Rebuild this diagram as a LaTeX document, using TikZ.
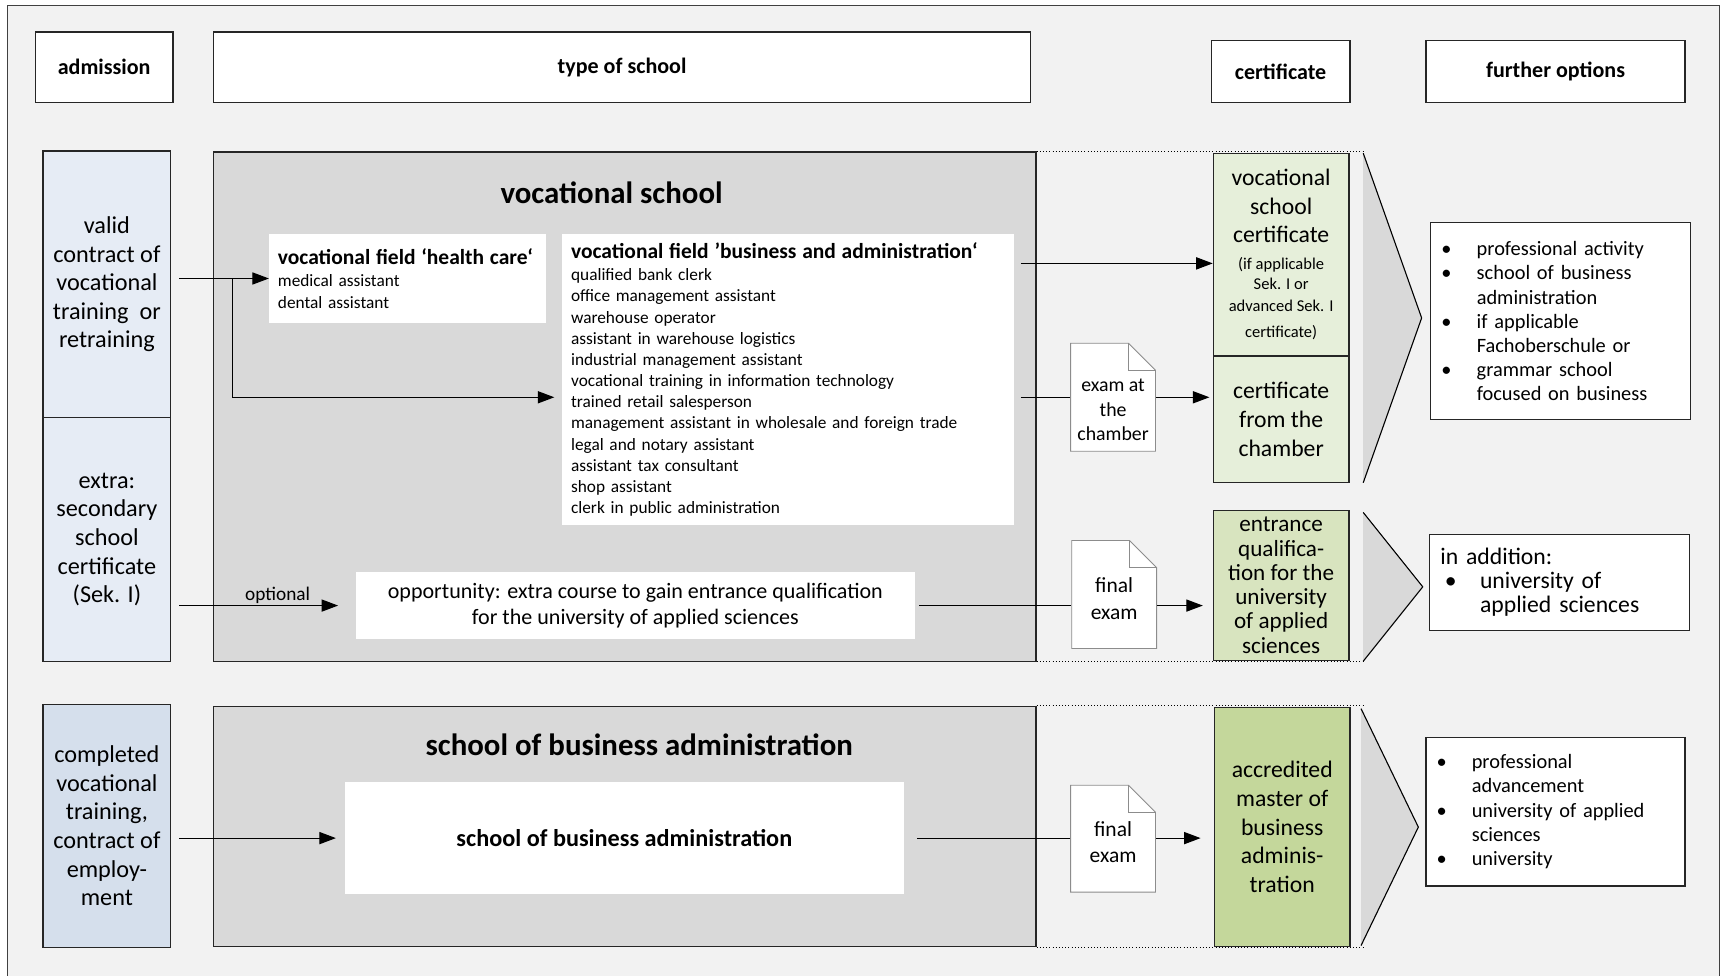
\documentclass[tikz,border=0pt]{standalone}
\usepackage{fontspec}
\setmainfont{Carlito}
\usetikzlibrary{arrows.meta}

\definecolor{bgcol}{HTML}{F2F2F2}
\definecolor{schoolgray}{HTML}{D9D9D9}
\definecolor{admblue}{HTML}{E6ECF5}
\definecolor{admbluedark}{HTML}{D5DFEC}
\definecolor{certgreen}{HTML}{E6EFDA}
\definecolor{certgreenmid}{HTML}{D8E4BF}
\definecolor{certgreendark}{HTML}{C4D79B}
\definecolor{framegray}{HTML}{404040}

\newcommand{\fsz}[2]{\fontsize{#1}{#2}\selectfont}
\newcommand{\smc}{\fsz{15}{20}}
\newcommand{\optbul}{\makebox[32pt][l]{\textbullet}}
\newcommand{\optind}{\hspace*{32pt}}

\tikzset{
  frmbox/.style={draw=black!85, line width=1.1pt, inner sep=0pt, align=center},
  headbox/.style={frmbox, fill=white, font=\bfseries\fsz{20}{22}},
  admbox/.style={frmbox, fill=admblue, minimum width=116pt, font=\fsz{22}{26}},
  schoolbox/.style={frmbox, fill=schoolgray, minimum width=746pt},
  fieldbox/.style={fill=white, inner sep=8pt, align=left, anchor=north west, font=\fsz{15.7}{19.2}},
  certbox/.style={frmbox, fill=certgreen, minimum width=123pt, font=\fsz{21.5}{26}},
  optbox/.style={frmbox, fill=white, align=left, text width=216pt, minimum width=236pt, font=\fsz{18.5}{22}},
  docnode/.style={minimum width=78pt, minimum height=99pt, fill=bgcol, inner sep=0pt,
    path picture={
      \draw[draw=black!45, line width=0.8pt, fill=white]
        ([shift={(0.5pt,-0.5pt)}]path picture bounding box.north west)
        -- ([shift={(-25pt,-0.5pt)}]path picture bounding box.north east)
        -- ([shift={(-0.5pt,-25pt)}]path picture bounding box.north east)
        -- ([shift={(-0.5pt,0.5pt)}]path picture bounding box.south east)
        -- ([shift={(0.5pt,0.5pt)}]path picture bounding box.south west) -- cycle;
      \draw[draw=black!45, line width=0.8pt]
        ([shift={(-25pt,-0.5pt)}]path picture bounding box.north east)
        |- ([shift={(-0.5pt,-25pt)}]path picture bounding box.north east);
    }},
  doctext/.style={align=center, inner sep=0pt, font=\fsz{19.5}{24}},
  arr/.style={-{Triangle[length=15pt,width=11pt]}, line width=1.1pt},
}

\begin{document}
\begin{tikzpicture}[x=1pt, y=-1pt]
  \useasboundingbox (0,0) rectangle (1568,885);
  \clip (0,0) rectangle (1568,885);
  \fill[white] (0,0) rectangle (1568,885);
  \draw[framegray, line width=1.2pt, fill=bgcol] (7,5) rectangle (1560,900);

  % column heads
  \node[headbox, minimum width=125pt, minimum height=64pt] (adm) at (94.5,61) {admission};
  \node[headbox, minimum width=741pt, minimum height=64pt] (typ) at (564.5,61) {type of school};
  \node[headbox, minimum width=126pt, minimum height=56pt] (cer) at (1162,65) {certificate};
  \node[headbox, minimum width=235pt, minimum height=56pt] (fur) at (1411.5,65) {further options};

  % admission
  \node[admbox, minimum height=242pt] (valid) at (97,258) {valid\\contract of\\vocational\\training~ or\\retraining};
  \node[admbox, minimum height=221pt] (sek) at (97,489.5) {extra:\\secondary\\school\\certificate\\(Sek. I)};
  \node[admbox, fill=admbluedark, minimum height=221pt] (compl) at (97,749.5) {completed\\vocational\\training,\\contract of\\employ-\\ment};

  % vocational school
  \node[schoolbox, minimum height=462pt] (vs) at (567,369) {};
  \node[font=\bfseries\fsz{28}{30}] (vstitle) at (555,175) {vocational school};
  \node[fieldbox, text width=235pt, minimum height=81pt] (hc) at (244,212)
    {{\bfseries\fsz{19.5}{21}vocational field ‘health care‘}\\[1pt]
     medical assistant\\dental assistant};
  \node[fieldbox, text width=394pt, minimum height=260pt] (biz) at (510,212)
    {{\bfseries\fsz{19.5}{21}vocational field ’business and administration‘}\\[1pt]
     qualified bank clerk\\office management assistant\\warehouse operator\\
     assistant in warehouse logistics\\industrial management assistant\\
     vocational training in information technology\\trained retail salesperson\\
     management assistant in wholesale and foreign trade\\legal and notary assistant\\
     assistant tax consultant\\shop assistant\\clerk in public administration};
  \node[fill=white, inner sep=0pt, align=center, minimum width=507pt, minimum height=61pt, font=\fsz{20}{24}] (opp) at (576.5,549.5)
    {opportunity: extra course to gain entrance qualification\\for the university of applied sciences};

  % school of business administration
  \node[schoolbox, minimum height=218pt] (sba) at (567,750) {};
  \node[font=\bfseries\fsz{28}{30}] (sbatitle) at (580,676) {school of business administration};
  \node[fill=white, minimum width=507pt, minimum height=101pt, font=\bfseries\fsz{22}{24}] (sbi) at (566.5,760.5) {school of business administration};

  % dotted extension
  \draw[dotted, line width=0.9pt] (vs.north east) -- ++(297,0);
  \draw[dotted, line width=0.9pt] (vs.south east) -- ++(297,0);
  \draw[dotted, line width=0.9pt] (sba.north east) -- ++(297,0);
  \draw[dotted, line width=0.9pt] (sba.south east) -- ++(297,0);

  % exams
  \node[docnode] (exam1) at (1010,360.5) {};
  \node[doctext, font=\fsz{18}{22}] (exam1txt) at (1010,372) {exam at\\the\\chamber};
  \node[docnode] (exam2) at (1011,539.5) {};
  \node[doctext] (exam2txt) at (1011,543) {final\\exam};
  \node[docnode, minimum height=98pt] (exam3) at (1010,761) {};
  \node[doctext] (exam3txt) at (1010,764) {final\\exam};

  % certificates
  \node[certbox, minimum height=184pt] (vsc) at (1162.5,231)
    {vocational\\school\\certificate\\[-2pt]\smc(if applicable\\[-8pt]\smc Sek. I or\\[-6pt]\smc advanced Sek. I\\[-2pt]\smc certificate)};
  \node[certbox, minimum height=115pt] (chc) at (1162.5,380.5) {certificate\\from the\\chamber};
  \node[certbox, fill=certgreenmid, minimum height=136pt, font=\fsz{21}{22}] (ent) at (1162.5,531)
    {entrance\\qualifica-\\tion for the\\university\\of applied\\sciences};
  \node[certbox, fill=certgreendark, minimum height=217pt] (mba) at (1163.5,750.5)
    {accredited\\master of\\business\\adminis-\\tration};

  % chevrons
  \foreach \ya/\yb/\xa/\xt in {139/438/1237/1290, 465/600/1237/1291, 643/858/1235/1287} {
    \fill[schoolgray] (\xa,\ya) -- (\xt,{(\ya+\yb)/2}) -- (\xa,\yb) -- cycle;
    \draw[line width=1pt] (\xa,\ya) -- (\xt,{(\ya+\yb)/2}) -- (\xa,\yb);
  }

  % further options
  \node[optbox, minimum height=179pt] (fo1) at (1416,291.5)
    {\optbul professional activity\\\optbul school of business\\\optind administration\\
     \optbul if applicable\\\optind Fachoberschule or\\\optbul grammar school\\\optind focused on business};
  \node[optbox, minimum height=87pt, font=\fsz{21.5}{22}] (fo2) at (1415,528.5)
    {in addition:\\\hspace*{4pt}\optbul university of\\\hspace*{4pt}\optind applied sciences};
  \node[optbox, minimum width=235pt, minimum height=135pt] (fo3) at (1411.5,736.5)
    {\optbul professional\\\optind advancement\\\optbul university of applied\\\optind sciences\\\optbul university};

  % connectors
  \coordinate (split) at (211,253);
  \draw[arr] ([xshift=7pt]valid.east |- hc.west) -- (hc.west);
  \draw[arr] (split) |- ([xshift=-7pt]biz.west |- exam1.west);
  \draw[arr] ([xshift=7pt]sek.east |- opp.west) -- node[above, pos=0.62, inner sep=1pt, font=\fsz{17.5}{20}] (optlbl) {optional} ([xshift=-16pt]opp.west);
  \draw[arr] ([xshift=7pt]compl.east |- sbi.west) -- ([xshift=-8pt]sbi.west);

  \draw[arr] ([xshift=6pt,yshift=-8pt]biz.east |- vsc.west) -- ([yshift=-8pt]vsc.west);
  \draw[line width=1.1pt] ([xshift=6pt]biz.east |- exam1.west) -- (exam1.west);
  \draw[arr] (exam1.east) -- ([xshift=-3pt]exam1.east -| chc.west);
  \draw[line width=1.1pt] ([xshift=4pt]opp.east) -- (opp.east -| exam2.west);
  \draw[arr] (exam2.east |- opp.east) -- ([xshift=-9pt]opp.east -| ent.west);
  \draw[line width=1.1pt] ([xshift=12pt]sbi.east) -- (sbi.east -| exam3.west);
  \draw[arr] (exam3.east |- sbi.east) -- ([xshift=-12pt]sbi.east -| mba.west);
\end{tikzpicture}
\end{document}
